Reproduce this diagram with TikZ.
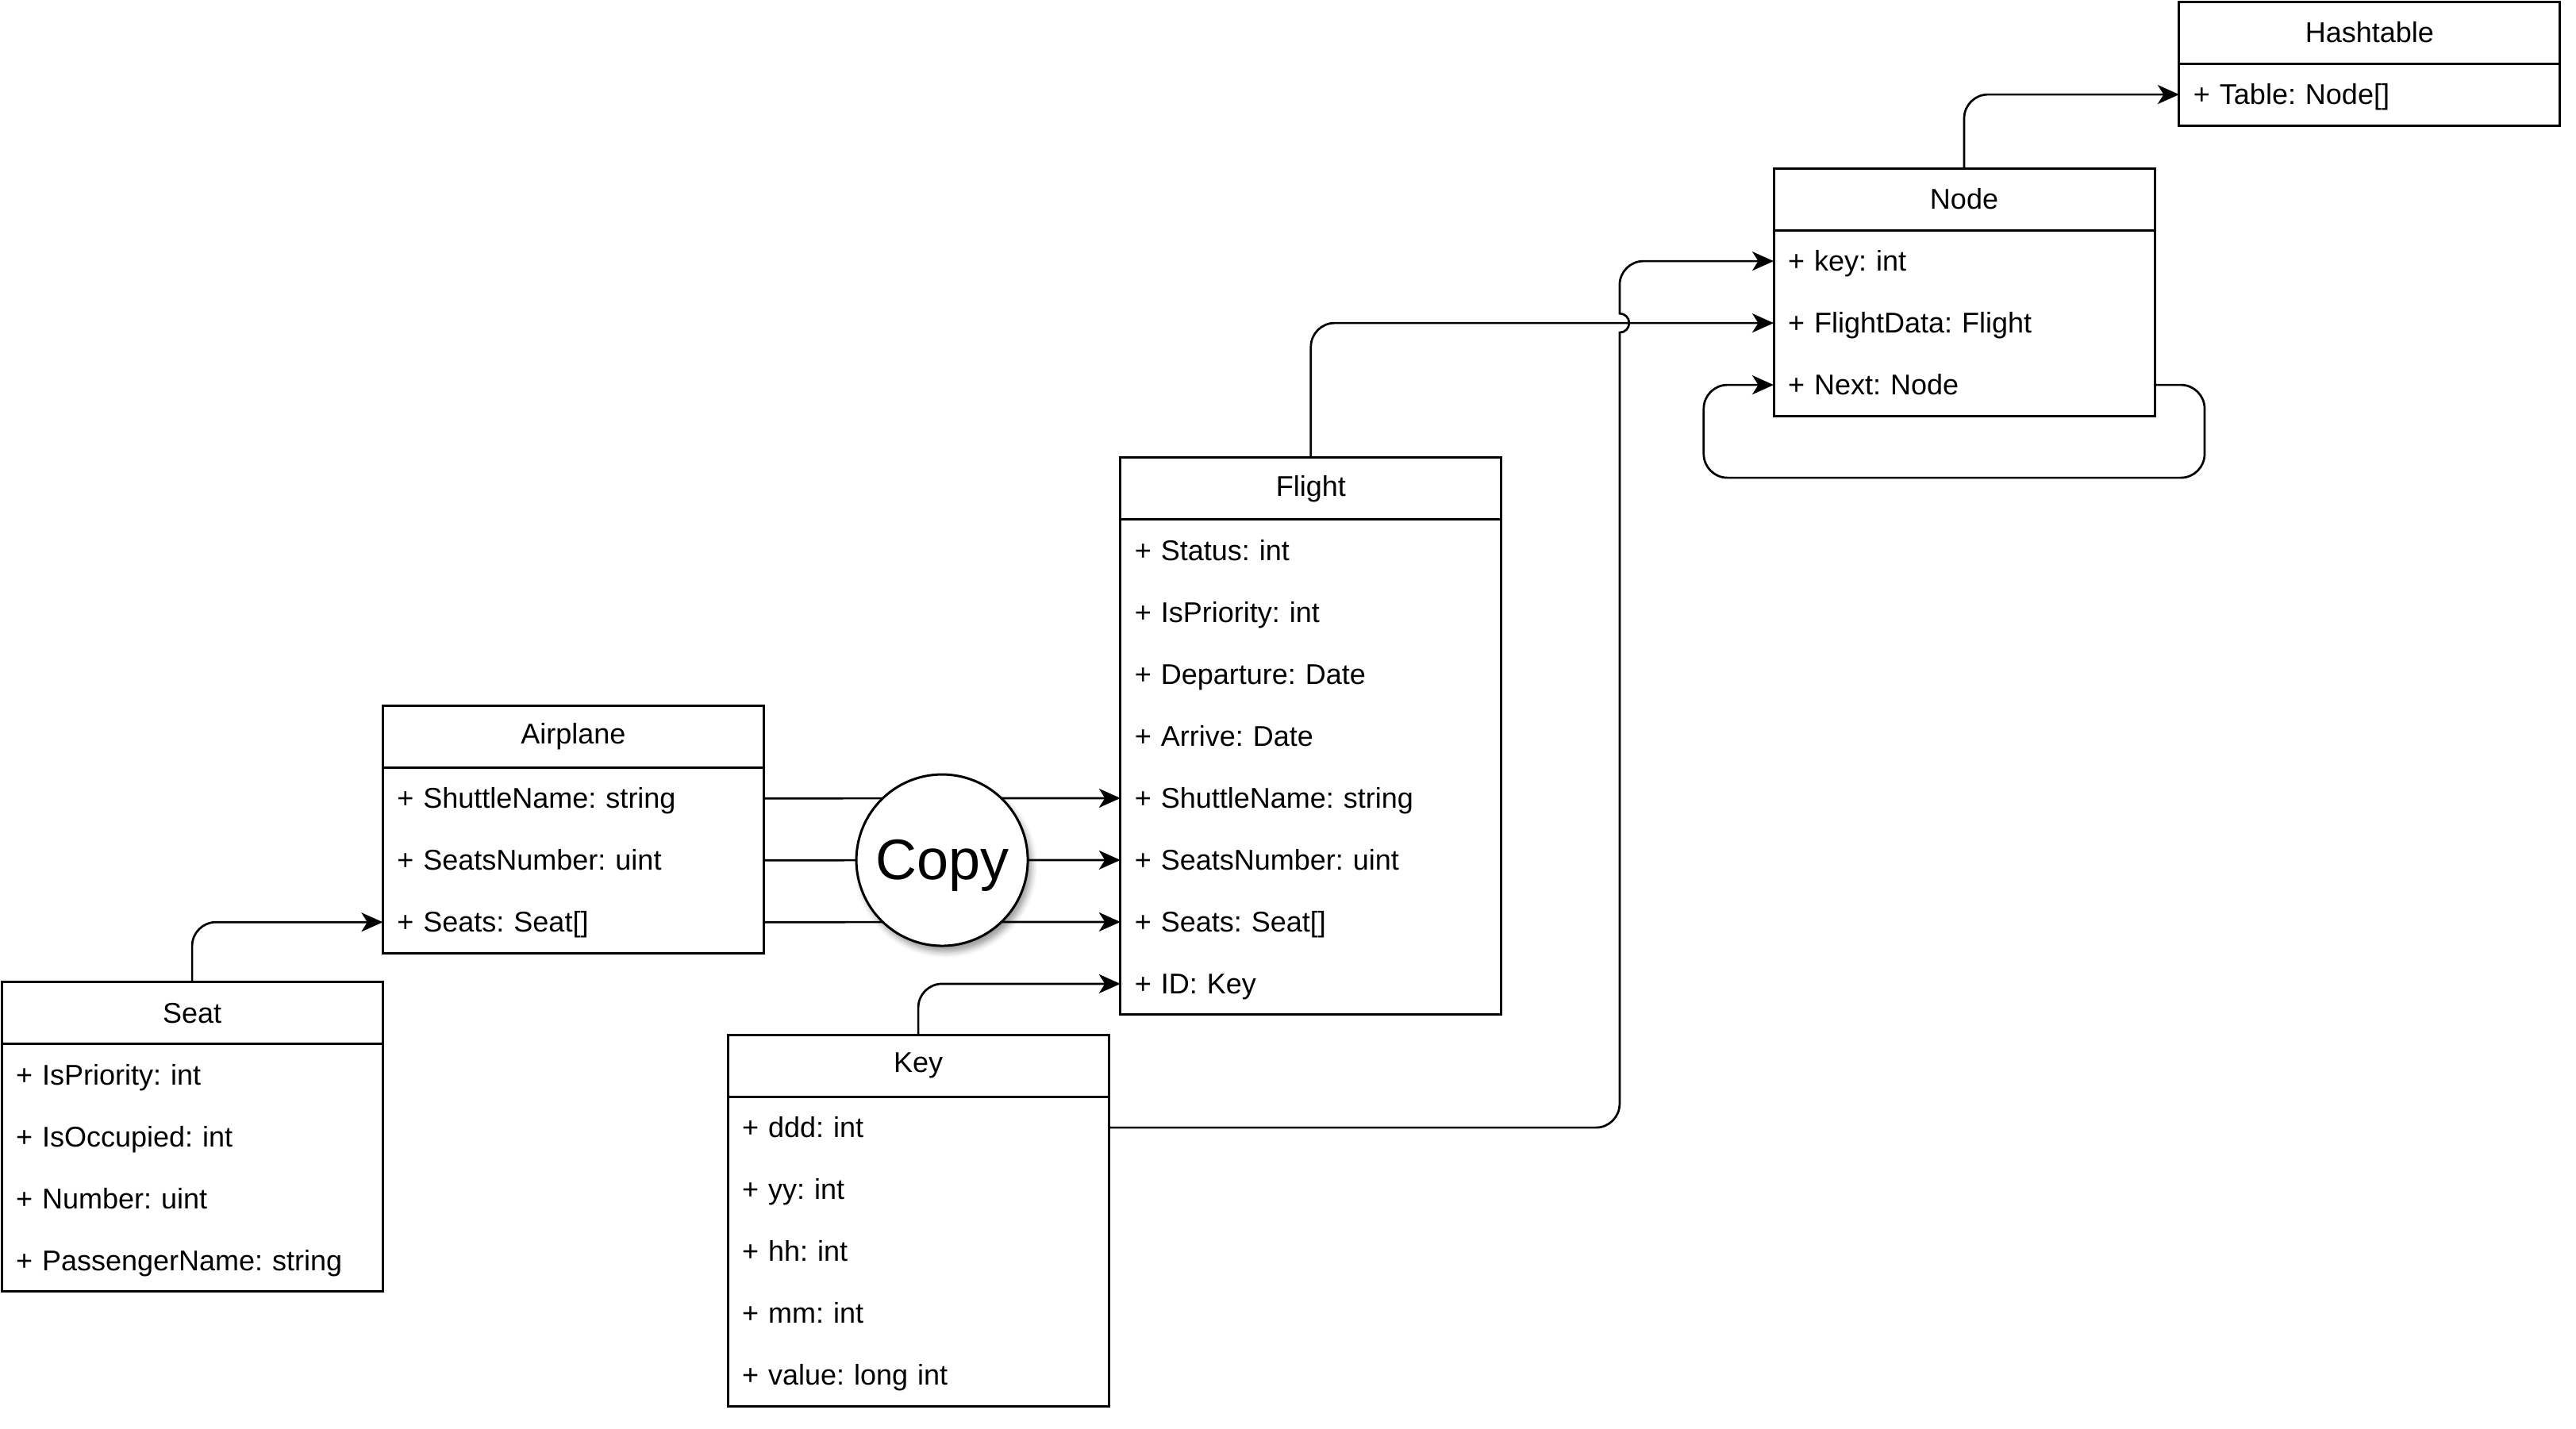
\documentclass[tikz,border=0pt]{standalone}
\usepackage{fontspec}
\setmainfont{Liberation Sans}
\frenchspacing
\usetikzlibrary{positioning,arrows.meta,backgrounds,calc,shadows.blur}

\tikzset{
  classhead/.style={minimum width=160pt, minimum height=26pt, inner sep=0pt, outer sep=0pt,
    font=\fontsize{12}{14}\selectfont},
  classrow/.style={text width=148pt, align=left, inner xsep=6pt, inner ysep=0pt, outer sep=0pt,
    minimum height=26pt, text height=11pt, text depth=2.5pt, font=\fontsize{12}{14}\selectfont},
  classbox/.style={fill=white, blur shadow={shadow xshift=1.5pt, shadow yshift=-2.5pt,
    shadow blur radius=2.5pt, shadow opacity=40}},
  frame/.style={draw, line width=1pt},
  link/.style={draw, line width=0.9pt, rounded corners=10pt,
    -{Stealth[length=9pt, width=8pt, inset=2.5pt]}},
  copyball/.style={circle, draw, line width=1pt, fill=white, minimum size=72pt, inner sep=0pt,
    text height=21.7pt, text depth=5.1pt, font=\fontsize{24}{28}\selectfont,
    blur shadow={shadow xshift=1.5pt, shadow yshift=-2.5pt, shadow blur radius=2.5pt,
    shadow opacity=40}}
}

\begin{document}
\begin{tikzpicture}[x=1pt, y=-1pt]
\useasboundingbox (0,0) rectangle (1082,600);

% Hashtable
\node[classhead] (hashtable) at (995.3,13.7) {Hashtable};
\node[classrow, below=0pt of hashtable] (hashtable-table) {+ Table: Node[]};

% Node of the list
\node[classhead] (hnode) at (825,83.7) {Node};
\node[classrow, below=0pt of hnode] (hnode-key) {+ key: int};
\node[classrow, below=0pt of hnode-key] (hnode-flightdata) {+ FlightData: Flight};
\node[classrow, below=0pt of hnode-flightdata] (hnode-next) {+ Next: Node};

% Flight
\node[classhead] (flight) at (550.6,205.3) {Flight};
\node[classrow, below=0pt of flight] (flight-status) {+ Status: int};
\node[classrow, below=0pt of flight-status] (flight-ispriority) {+ IsPriority: int};
\node[classrow, below=0pt of flight-ispriority] (flight-departure) {+ Departure: Date};
\node[classrow, below=0pt of flight-departure] (flight-arrive) {+ Arrive: Date};
\node[classrow, below=0pt of flight-arrive] (flight-shuttlename) {+ ShuttleName: string};
\node[classrow, below=0pt of flight-shuttlename] (flight-seatsnumber) {+ SeatsNumber: uint};
\node[classrow, below=0pt of flight-seatsnumber] (flight-seats) {+ Seats: Seat[]};
\node[classrow, below=0pt of flight-seats] (flight-id) {+ ID: Key};

% Airplane
\node[classhead] (airplane) at (240.8,309.4) {Airplane};
\node[classrow, below=0pt of airplane] (airplane-shuttlename) {+ ShuttleName: string};
\node[classrow, below=0pt of airplane-shuttlename] (airplane-seatsnumber) {+ SeatsNumber: uint};
\node[classrow, below=0pt of airplane-seatsnumber] (airplane-seats) {+ Seats: Seat[]};

% Seat
\node[classhead] (seat) at (80.7,425.6) {Seat};
\node[classrow, below=0pt of seat] (seat-ispriority) {+ IsPriority: int};
\node[classrow, below=0pt of seat-ispriority] (seat-isoccupied) {+ IsOccupied: int};
\node[classrow, below=0pt of seat-isoccupied] (seat-number) {+ Number: uint};
\node[classrow, below=0pt of seat-number] (seat-passengername) {+ PassengerName: string};

% Key
\node[classhead] (key) at (385.7,447.7) {Key};
\node[classrow, below=0pt of key] (key-ddd) {+ ddd: int};
\node[classrow, below=0pt of key-ddd] (key-yy) {+ yy: int};
\node[classrow, below=0pt of key-yy] (key-hh) {+ hh: int};
\node[classrow, below=0pt of key-hh] (key-mm) {+ mm: int};
\node[classrow, below=0pt of key-mm] (key-value) {+ value: long int};

% white boxes with shadows
\begin{scope}[on background layer]
  \path[classbox] (hashtable.north west) rectangle (hashtable-table.south east);
  \path[classbox] (hnode.north west) rectangle (hnode-next.south east);
  \path[classbox] (flight.north west) rectangle (flight-id.south east);
  \path[classbox] (airplane.north west) rectangle (airplane-seats.south east);
  \path[classbox] (seat.north west) rectangle (seat-passengername.south east);
  \path[classbox] (key.north west) rectangle (key-value.south east);
\end{scope}

% frames and header lines
\draw[frame] (hashtable.north west) rectangle (hashtable-table.south east);
\draw[frame] (hashtable.south west) -- (hashtable.south east);
\draw[frame] (hnode.north west) rectangle (hnode-next.south east);
\draw[frame] (hnode.south west) -- (hnode.south east);
\draw[frame] (flight.north west) rectangle (flight-id.south east);
\draw[frame] (flight.south west) -- (flight.south east);
\draw[frame] (airplane.north west) rectangle (airplane-seats.south east);
\draw[frame] (airplane.south west) -- (airplane.south east);
\draw[frame] (seat.north west) rectangle (seat-passengername.south east);
\draw[frame] (seat.south west) -- (seat.south east);
\draw[frame] (key.north west) rectangle (key-value.south east);
\draw[frame] (key.south west) -- (key.south east);

% connectors
\draw[link] (hnode.north) |- (hashtable-table.west);
\draw[link] (flight.north) |- (hnode-flightdata.west);
% key line hops over the FlightData line
\coordinate (hopx) at (680.3,0);
\coordinate (hop) at (hopx |- hnode-flightdata.west);
\coordinate (keybend) at (hopx |- key-ddd.east);
\coordinate (nodebend) at (hopx |- hnode-key.west);
\draw[link, sharp corners] (key-ddd.east) -- ([xshift=-10pt]keybend)
  arc[start angle=-90, end angle=0, radius=10pt] -- ([yshift=-4pt]hop)
  arc[start angle=-90, end angle=90, radius=4pt] -- ([yshift=-10pt]nodebend)
  arc[start angle=180, end angle=90, radius=10pt] -- (hnode-key.west);
\draw[link] (hnode-next.east) -| ++(21,39) -| ++(-210.4,-39) -- (hnode-next.west);
\draw[link] (seat.north) |- (airplane-seats.west);
\draw[link] (key.north) |- (flight-id.west);

% copied fields
\draw[link] (airplane-shuttlename.east) -- (flight-shuttlename.west);
\draw[link] (airplane-seatsnumber.east) -- (flight-seatsnumber.west);
\draw[link] (airplane-seats.east) -- (flight-seats.west);
\node[copyball] (copy) at ($(airplane-seatsnumber.east)!0.5!(flight-seatsnumber.west)$) {Copy};
\end{tikzpicture}
\end{document}
